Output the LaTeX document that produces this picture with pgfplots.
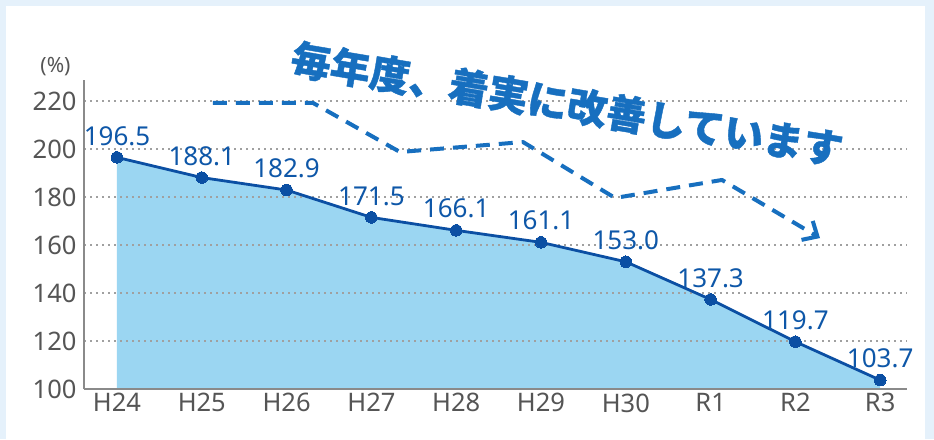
\documentclass[border=0pt]{standalone}
\usepackage{pgfplots}
\pgfplotsset{compat=1.18}
\usepackage{fontspec}
\setmainfont{Noto Sans}
\newfontfamily\jpfont{Noto Sans CJK JP}[BoldFeatures={FakeBold=1}]
\usetikzlibrary{arrows.meta}
\definecolor{outerblue}{HTML}{E5F1FB}
\definecolor{linecol}{HTML}{0B4FA3}
\definecolor{fillcol}{HTML}{9BD6F2}
\definecolor{labcol}{HTML}{0E57A8}
\definecolor{arrowcol}{HTML}{176FBF}
\definecolor{tickcol}{HTML}{555555}
\definecolor{axiscol}{HTML}{8A8A8A}
\definecolor{gridcol}{HTML}{A0A0A0}
\pgfplotsset{
  geom/.style={
    at={(84pt,50pt)}, anchor=south west,
    scale only axis, width=823pt, height=309pt,
    xmin=-0.389, xmax=9.316, ymin=100, ymax=228.75,
    clip=false,
  }
}
\begin{document}
\begin{tikzpicture}[x=1pt,y=1pt]
\fill[outerblue] (0,0) rectangle (934,439);
\fill[white] (6,0) rectangle (925,433);
% fill area (below the grid)
\begin{axis}[geom, hide axis]
\addplot[fill=fillcol, draw=none] coordinates {
  (0,100) (0,196.5) (1,188.1) (2,182.9) (3,171.5) (4,166.1) (5,161.1)
  (6,153.0) (7,137.3) (8,119.7) (9,103.7) (9,100)} -- cycle;
\end{axis}
\begin{axis}[geom,
  axis x line*=bottom, axis y line*=left,
  axis line style={draw=axiscol, line width=1.2pt, -},
  xtick={0,1,2,3,4,5,6,7,8,9},
  xticklabels={H24,H25,H26,H27,H28,H29,H30,R1,R2,R3},
  ytick={100,120,140,160,180,200,220},
  yticklabels={100,120,140,160,180,200,220},
  major tick length=0pt,
  ymajorgrids,
  grid style={draw=gridcol, line width=1.1pt, dash pattern=on 2.2pt off 3.8pt},
  tick label style={font=\fontsize{25.5}{25.5}\selectfont, text=tickcol},
  yticklabel style={xshift=-4pt},
  xticklabel style={yshift=-1pt},
]
\addplot[arrowcol, line width=4pt, dash pattern=on 14pt off 9pt,
  line join=round,
  -{Straight Barb[length=12pt,width=22pt,line width=4pt]}] coordinates {
  (1.132,219.2) (2.311,219.2) (3.337,198.75) (4.788,202.9)
  (5.873,179.6) (7.134,187.1) (8.290,162.9)};
\addplot[linecol, line width=2.8pt, mark=*, mark size=5.8pt,
  mark options={fill=linecol, draw=linecol, line width=0pt},
  point meta=explicit symbolic,
  nodes near coords,
  every node near coord/.append style={anchor=south, inner sep=0pt, yshift=12pt,
    font=\fontsize{26}{26}\selectfont, text=labcol}]
  coordinates {
  (0,196.5) [196.5] (1,188.1) [188.1] (2,182.9) [182.9] (3,171.5) [171.5]
  (4,166.1) [166.1] (5,161.1) [161.1] (6,153.0) [153.0] (7,137.3) [137.3]
  (8,119.7) [119.7] (9,103.7) [103.7]};
\end{axis}
\node[text=tickcol, font=\fontsize{21}{21}\selectfont] at (55.5,372) {(\%)};
\node[text=arrowcol, rotate=-9.5, font=\jpfont\bfseries\fontsize{40}{40}\selectfont, inner sep=0pt]
  at (567,335) {毎年度、着実に改善しています};
\end{tikzpicture}
\end{document}
